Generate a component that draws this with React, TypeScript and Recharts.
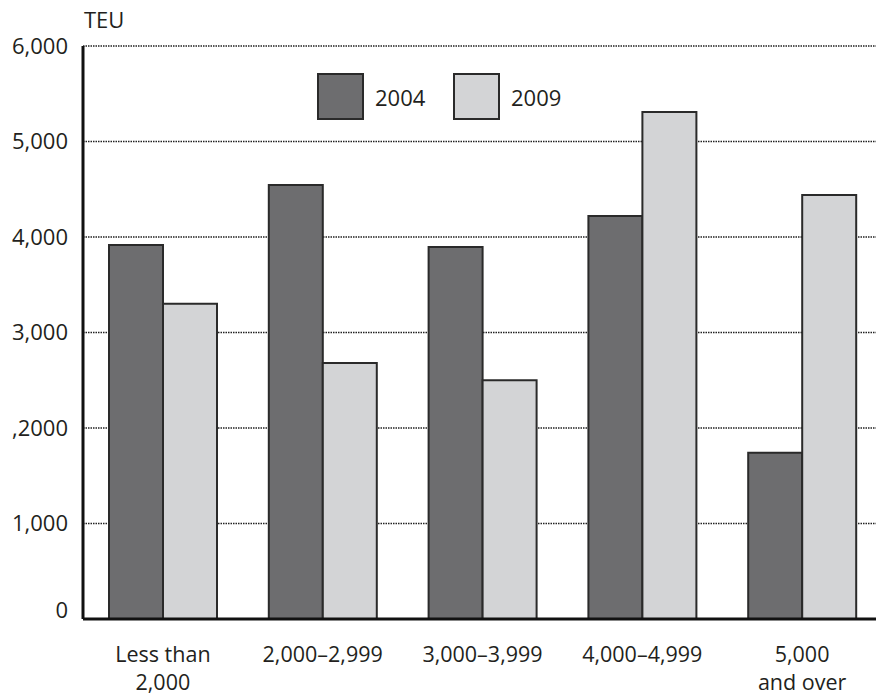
import React from 'react';
import { BarChart, Bar, XAxis, YAxis, CartesianGrid } from 'recharts';

const categories = ['Less than\n2,000', '2,000–2,999', '3,000–3,999', '4,000–4,999', '5,000\nand over'];
const values2004 = [3915, 4545, 3895, 4220, 1740];
const values2009 = [3300, 2680, 2500, 5310, 4440];
const yTicks = [0, 1000, 2000, 3000, 4000, 5000, 6000];
const yTickLabels = ['0', '1,000', ',2000', '3,000', '4,000', '5,000', '6,000'];
const seriesNames = ['2004', '2009'];
const seriesColors = ['#6d6d6f', '#d3d4d6'];
const yAxisTitle = 'TEU';

const data = categories.map((c, i) => ({
  name: c,
  s2004: values2004[i],
  s2009: values2009[i],
}));

const FONT = '"Open Sans", sans-serif';
const TEXT = '#231f20';

const YTick = (props: any) => {
  const { x, y, payload } = props;
  const idx = yTicks.indexOf(payload.value);
  const label = idx >= 0 ? yTickLabels[idx] : String(payload.value);
  const shift = payload.value === 0 ? -9 : 0;
  return (
    <text x={x} y={y + shift} dy="0.36em" textAnchor="end" fontFamily={FONT} fontSize={22} fill={TEXT}>
      {label}
    </text>
  );
};

const XTick = (props: any) => {
  const { x, y, payload } = props;
  const lines = String(payload.value).split('\n');
  return (
    <text x={x} y={y} textAnchor="middle" fontFamily={FONT} fontSize={21.5} fill={TEXT}>
      {lines.map((l, i) => (
        <tspan key={i} x={x} dy={i === 0 ? 43 : 28}>
          {l}
        </tspan>
      ))}
    </text>
  );
};

export default function App() {
  return (
    <div style={{ position: 'absolute', left: 0, top: 0, width: 876, height: 696, overflow: 'hidden', background: '#fff' }}>
      <div
        style={{
          position: 'absolute',
          left: 84,
          top: 4,
          fontFamily: FONT,
          fontSize: 22,
          color: TEXT,
          lineHeight: '30px',
        }}
      >
        {yAxisTitle}
      </div>
      <div style={{ position: 'absolute', left: 0, top: 0 }}>
        <BarChart
          width={900}
          height={696}
          data={data}
          margin={{ top: 46, right: 18, bottom: 0, left: 0 }}
          barCategoryGap={26}
          barGap={0}
        >
          <CartesianGrid vertical={false} stroke="#222" strokeDasharray="1.5 1" strokeWidth={1.3} />
          <XAxis
            dataKey="name"
            height={77}
            tickLine={false}
            tickSize={0}
            tickMargin={0}
            interval={0}
            axisLine={{ stroke: '#111', strokeWidth: 3 }}
            tick={<XTick />}
          />
          <YAxis
            width={83}
            domain={[0, 6000]}
            ticks={yTicks}
            tickLine={false}
            tickSize={0}
            tickMargin={15}
            axisLine={{ stroke: '#111', strokeWidth: 3 }}
            tick={<YTick />}
          />
          <Bar dataKey="s2004" name={seriesNames[0]} fill={seriesColors[0]} stroke="#2a2a2a" strokeWidth={2} isAnimationActive={false} />
          <Bar dataKey="s2009" name={seriesNames[1]} fill={seriesColors[1]} stroke="#2a2a2a" strokeWidth={2} isAnimationActive={false} />
        </BarChart>
      </div>
      {seriesNames.map((n, i) => (
        <div
          key={n}
          style={{ position: 'absolute', left: 317 + i * 136, top: 73, display: 'flex', alignItems: 'center' }}
        >
          <div
            style={{
              width: 43,
              height: 43,
              background: seriesColors[i],
              border: '2px solid #2a2a2a',
            }}
          />
          <span style={{ marginLeft: 11, fontFamily: FONT, fontSize: 22, color: TEXT }}>{n}</span>
        </div>
      ))}
    </div>
  );
}
